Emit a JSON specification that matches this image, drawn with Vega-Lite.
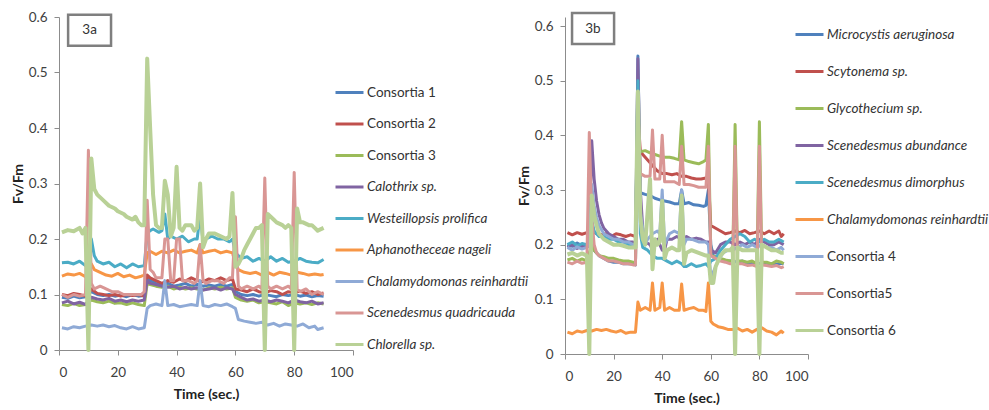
{
"$schema": "https://vega.github.io/schema/vega-lite/v6.json",
"autosize": {"type": "pad"},
"padding": {"left": 11, "top": 10, "right": 0, "bottom": 0},
"spacing": -12,
"config": {
 "font": "Lato",
 "view": {"stroke": null},
 "axis": {"domainColor": "#8c8c8c", "tickColor": "#8c8c8c", "tickSize": 5, "labelFontSize": 13.5, "labelColor": "#404040", "labelPadding": 7, "titleFontSize": 14, "titleFontWeight": "bold", "titleColor": "#222222", "grid": false},
 "legend": {"symbolType": "stroke", "symbolSize": 784, "symbolStrokeWidth": 3, "labelFontSize": 13.5, "labelColor": "#333333", "labelOffset": 2, "padding": 0, "labelLimit": 250}
},
"resolve": {"scale": {"color": "independent"}, "legend": {"color": "independent"}},
"datasets": {
 "namesA": [{"s":1,"n":"Consortia 1"},{"s":2,"n":"Consortia 2"},{"s":3,"n":"Consortia 3"},{"s":4,"n":"Calothrix sp."},{"s":5,"n":"Westeillopsis prolifica"},{"s":6,"n":"Aphanotheceae nageli"},{"s":7,"n":"Chalamydomonas reinhardtii"},{"s":8,"n":"Scenedesmus quadricauda"},{"s":9,"n":"Chlorella sp."}],
 "namesB": [{"s":1,"n":"Microcystis aeruginosa"},{"s":2,"n":"Scytonema sp."},{"s":3,"n":"Glycothecium sp."},{"s":4,"n":"Scenedesmus abundance"},{"s":5,"n":"Scenedesmus dimorphus"},{"s":6,"n":"Chalamydomonas reinhardtii"},{"s":7,"n":"Consortia 4"},{"s":8,"n":"Consortia5"},{"s":9,"n":"Consortia 6"}],
 "a": [
{"s":1,"t":1,"v":0.095},{"s":1,"t":3,"v":0.093},{"s":1,"t":5,"v":0.097},{"s":1,"t":7,"v":0.094},{"s":1,"t":9,"v":0.096},{"s":1,"t":11,"v":0.105},{"s":1,"t":13,"v":0.1},{"s":1,"t":15,"v":0.098},{"s":1,"t":17,"v":0.1},{"s":1,"t":19,"v":0.097},{"s":1,"t":21,"v":0.099},{"s":1,"t":23,"v":0.096},{"s":1,"t":25,"v":0.1},{"s":1,"t":27,"v":0.097},{"s":1,"t":29,"v":0.098},{"s":1,"t":30,"v":0.13},{"s":1,"t":31,"v":0.125},{"s":1,"t":33,"v":0.12},{"s":1,"t":35,"v":0.118},{"s":1,"t":37,"v":0.12},{"s":1,"t":39,"v":0.115},{"s":1,"t":41,"v":0.117},{"s":1,"t":43,"v":0.12},{"s":1,"t":45,"v":0.115},{"s":1,"t":47,"v":0.118},{"s":1,"t":49,"v":0.115},{"s":1,"t":51,"v":0.117},{"s":1,"t":53,"v":0.115},{"s":1,"t":55,"v":0.118},{"s":1,"t":57,"v":0.115},{"s":1,"t":59,"v":0.118},{"s":1,"t":60,"v":0.105},{"s":1,"t":62,"v":0.1},{"s":1,"t":64,"v":0.098},{"s":1,"t":66,"v":0.1},{"s":1,"t":68,"v":0.097},{"s":1,"t":70,"v":0.1},{"s":1,"t":72,"v":0.098},{"s":1,"t":74,"v":0.096},{"s":1,"t":76,"v":0.1},{"s":1,"t":78,"v":0.098},{"s":1,"t":80,"v":0.1},{"s":1,"t":82,"v":0.097},{"s":1,"t":84,"v":0.099},{"s":1,"t":86,"v":0.096},{"s":1,"t":88,"v":0.098},{"s":1,"t":90,"v":0.097},
{"s":2,"t":1,"v":0.1},{"s":2,"t":3,"v":0.098},{"s":2,"t":5,"v":0.102},{"s":2,"t":7,"v":0.1},{"s":2,"t":9,"v":0.097},{"s":2,"t":11,"v":0.11},{"s":2,"t":13,"v":0.102},{"s":2,"t":15,"v":0.1},{"s":2,"t":17,"v":0.098},{"s":2,"t":19,"v":0.1},{"s":2,"t":21,"v":0.097},{"s":2,"t":23,"v":0.1},{"s":2,"t":25,"v":0.098},{"s":2,"t":27,"v":0.1},{"s":2,"t":29,"v":0.097},{"s":2,"t":30,"v":0.135},{"s":2,"t":31,"v":0.13},{"s":2,"t":33,"v":0.125},{"s":2,"t":35,"v":0.12},{"s":2,"t":37,"v":0.125},{"s":2,"t":39,"v":0.122},{"s":2,"t":41,"v":0.128},{"s":2,"t":43,"v":0.124},{"s":2,"t":45,"v":0.13},{"s":2,"t":47,"v":0.125},{"s":2,"t":49,"v":0.123},{"s":2,"t":51,"v":0.128},{"s":2,"t":53,"v":0.125},{"s":2,"t":55,"v":0.13},{"s":2,"t":57,"v":0.125},{"s":2,"t":59,"v":0.128},{"s":2,"t":60,"v":0.11},{"s":2,"t":62,"v":0.108},{"s":2,"t":64,"v":0.105},{"s":2,"t":66,"v":0.11},{"s":2,"t":68,"v":0.105},{"s":2,"t":70,"v":0.103},{"s":2,"t":72,"v":0.107},{"s":2,"t":74,"v":0.105},{"s":2,"t":76,"v":0.1},{"s":2,"t":78,"v":0.105},{"s":2,"t":80,"v":0.103},{"s":2,"t":82,"v":0.106},{"s":2,"t":84,"v":0.102},{"s":2,"t":86,"v":0.105},{"s":2,"t":88,"v":0.1},{"s":2,"t":90,"v":0.103},
{"s":3,"t":1,"v":0.082},{"s":3,"t":3,"v":0.08},{"s":3,"t":5,"v":0.084},{"s":3,"t":7,"v":0.08},{"s":3,"t":9,"v":0.082},{"s":3,"t":11,"v":0.09},{"s":3,"t":13,"v":0.087},{"s":3,"t":15,"v":0.085},{"s":3,"t":17,"v":0.088},{"s":3,"t":19,"v":0.084},{"s":3,"t":21,"v":0.085},{"s":3,"t":23,"v":0.082},{"s":3,"t":25,"v":0.085},{"s":3,"t":27,"v":0.082},{"s":3,"t":29,"v":0.08},{"s":3,"t":30,"v":0.12},{"s":3,"t":31,"v":0.118},{"s":3,"t":33,"v":0.115},{"s":3,"t":35,"v":0.113},{"s":3,"t":37,"v":0.115},{"s":3,"t":39,"v":0.11},{"s":3,"t":41,"v":0.113},{"s":3,"t":43,"v":0.11},{"s":3,"t":45,"v":0.112},{"s":3,"t":47,"v":0.11},{"s":3,"t":49,"v":0.108},{"s":3,"t":51,"v":0.112},{"s":3,"t":53,"v":0.11},{"s":3,"t":55,"v":0.113},{"s":3,"t":57,"v":0.11},{"s":3,"t":59,"v":0.112},{"s":3,"t":60,"v":0.095},{"s":3,"t":62,"v":0.09},{"s":3,"t":64,"v":0.088},{"s":3,"t":66,"v":0.09},{"s":3,"t":68,"v":0.085},{"s":3,"t":70,"v":0.087},{"s":3,"t":72,"v":0.085},{"s":3,"t":74,"v":0.083},{"s":3,"t":76,"v":0.087},{"s":3,"t":78,"v":0.08},{"s":3,"t":80,"v":0.085},{"s":3,"t":82,"v":0.083},{"s":3,"t":84,"v":0.085},{"s":3,"t":86,"v":0.082},{"s":3,"t":88,"v":0.085},{"s":3,"t":90,"v":0.083},
{"s":4,"t":1,"v":0.085},{"s":4,"t":3,"v":0.088},{"s":4,"t":5,"v":0.083},{"s":4,"t":7,"v":0.086},{"s":4,"t":9,"v":0.082},{"s":4,"t":11,"v":0.095},{"s":4,"t":13,"v":0.092},{"s":4,"t":15,"v":0.09},{"s":4,"t":17,"v":0.093},{"s":4,"t":19,"v":0.088},{"s":4,"t":21,"v":0.09},{"s":4,"t":23,"v":0.087},{"s":4,"t":25,"v":0.09},{"s":4,"t":27,"v":0.088},{"s":4,"t":29,"v":0.09},{"s":4,"t":30,"v":0.125},{"s":4,"t":31,"v":0.12},{"s":4,"t":33,"v":0.118},{"s":4,"t":35,"v":0.115},{"s":4,"t":37,"v":0.113},{"s":4,"t":39,"v":0.115},{"s":4,"t":41,"v":0.11},{"s":4,"t":43,"v":0.113},{"s":4,"t":45,"v":0.11},{"s":4,"t":47,"v":0.112},{"s":4,"t":49,"v":0.108},{"s":4,"t":51,"v":0.11},{"s":4,"t":53,"v":0.112},{"s":4,"t":55,"v":0.108},{"s":4,"t":57,"v":0.112},{"s":4,"t":59,"v":0.11},{"s":4,"t":60,"v":0.1},{"s":4,"t":62,"v":0.095},{"s":4,"t":64,"v":0.09},{"s":4,"t":66,"v":0.092},{"s":4,"t":68,"v":0.088},{"s":4,"t":70,"v":0.09},{"s":4,"t":72,"v":0.087},{"s":4,"t":74,"v":0.09},{"s":4,"t":76,"v":0.088},{"s":4,"t":78,"v":0.085},{"s":4,"t":80,"v":0.09},{"s":4,"t":82,"v":0.087},{"s":4,"t":84,"v":0.085},{"s":4,"t":86,"v":0.088},{"s":4,"t":88,"v":0.083},{"s":4,"t":90,"v":0.085},
{"s":5,"t":1,"v":0.157},{"s":5,"t":3,"v":0.158},{"s":5,"t":5,"v":0.155},{"s":5,"t":7,"v":0.16},{"s":5,"t":9,"v":0.152},{"s":5,"t":10,"v":0.155},{"s":5,"t":11,"v":0.2},{"s":5,"t":12,"v":0.17},{"s":5,"t":13,"v":0.16},{"s":5,"t":15,"v":0.155},{"s":5,"t":17,"v":0.158},{"s":5,"t":19,"v":0.15},{"s":5,"t":21,"v":0.155},{"s":5,"t":23,"v":0.148},{"s":5,"t":25,"v":0.155},{"s":5,"t":27,"v":0.15},{"s":5,"t":29,"v":0.152},{"s":5,"t":30,"v":0.21},{"s":5,"t":31,"v":0.215},{"s":5,"t":32,"v":0.218},{"s":5,"t":34,"v":0.212},{"s":5,"t":35,"v":0.215},{"s":5,"t":36,"v":0.245},{"s":5,"t":37,"v":0.2},{"s":5,"t":38,"v":0.205},{"s":5,"t":40,"v":0.2},{"s":5,"t":42,"v":0.205},{"s":5,"t":44,"v":0.195},{"s":5,"t":46,"v":0.2},{"s":5,"t":47,"v":0.2},{"s":5,"t":48,"v":0.245},{"s":5,"t":49,"v":0.195},{"s":5,"t":50,"v":0.2},{"s":5,"t":52,"v":0.205},{"s":5,"t":54,"v":0.2},{"s":5,"t":56,"v":0.2},{"s":5,"t":58,"v":0.195},{"s":5,"t":59,"v":0.2},{"s":5,"t":60,"v":0.175},{"s":5,"t":61,"v":0.17},{"s":5,"t":62,"v":0.165},{"s":5,"t":64,"v":0.168},{"s":5,"t":66,"v":0.16},{"s":5,"t":68,"v":0.165},{"s":5,"t":70,"v":0.16},{"s":5,"t":72,"v":0.168},{"s":5,"t":74,"v":0.16},{"s":5,"t":76,"v":0.165},{"s":5,"t":78,"v":0.158},{"s":5,"t":80,"v":0.16},{"s":5,"t":82,"v":0.165},{"s":5,"t":84,"v":0.16},{"s":5,"t":86,"v":0.158},{"s":5,"t":88,"v":0.157},{"s":5,"t":90,"v":0.163},
{"s":6,"t":1,"v":0.133},{"s":6,"t":3,"v":0.137},{"s":6,"t":5,"v":0.135},{"s":6,"t":7,"v":0.138},{"s":6,"t":9,"v":0.132},{"s":6,"t":11,"v":0.155},{"s":6,"t":12,"v":0.145},{"s":6,"t":14,"v":0.14},{"s":6,"t":16,"v":0.135},{"s":6,"t":18,"v":0.133},{"s":6,"t":20,"v":0.138},{"s":6,"t":22,"v":0.132},{"s":6,"t":24,"v":0.135},{"s":6,"t":26,"v":0.13},{"s":6,"t":28,"v":0.133},{"s":6,"t":29,"v":0.135},{"s":6,"t":30,"v":0.175},{"s":6,"t":31,"v":0.178},{"s":6,"t":33,"v":0.172},{"s":6,"t":35,"v":0.178},{"s":6,"t":37,"v":0.175},{"s":6,"t":39,"v":0.18},{"s":6,"t":41,"v":0.175},{"s":6,"t":43,"v":0.178},{"s":6,"t":45,"v":0.18},{"s":6,"t":47,"v":0.175},{"s":6,"t":48,"v":0.19},{"s":6,"t":49,"v":0.175},{"s":6,"t":51,"v":0.178},{"s":6,"t":53,"v":0.18},{"s":6,"t":55,"v":0.175},{"s":6,"t":57,"v":0.178},{"s":6,"t":59,"v":0.175},{"s":6,"t":60,"v":0.155},{"s":6,"t":61,"v":0.145},{"s":6,"t":63,"v":0.14},{"s":6,"t":65,"v":0.138},{"s":6,"t":67,"v":0.14},{"s":6,"t":69,"v":0.135},{"s":6,"t":71,"v":0.14},{"s":6,"t":73,"v":0.135},{"s":6,"t":75,"v":0.14},{"s":6,"t":77,"v":0.138},{"s":6,"t":79,"v":0.135},{"s":6,"t":81,"v":0.14},{"s":6,"t":83,"v":0.138},{"s":6,"t":85,"v":0.135},{"s":6,"t":87,"v":0.137},{"s":6,"t":89,"v":0.135},{"s":6,"t":90,"v":0.136},
{"s":7,"t":1,"v":0.04},{"s":7,"t":3,"v":0.038},{"s":7,"t":5,"v":0.042},{"s":7,"t":7,"v":0.04},{"s":7,"t":9,"v":0.043},{"s":7,"t":11,"v":0.045},{"s":7,"t":13,"v":0.043},{"s":7,"t":15,"v":0.045},{"s":7,"t":17,"v":0.042},{"s":7,"t":19,"v":0.044},{"s":7,"t":21,"v":0.04},{"s":7,"t":23,"v":0.038},{"s":7,"t":25,"v":0.042},{"s":7,"t":27,"v":0.038},{"s":7,"t":29,"v":0.04},{"s":7,"t":30,"v":0.075},{"s":7,"t":31,"v":0.08},{"s":7,"t":33,"v":0.083},{"s":7,"t":35,"v":0.08},{"s":7,"t":36,"v":0.125},{"s":7,"t":37,"v":0.08},{"s":7,"t":39,"v":0.082},{"s":7,"t":41,"v":0.078},{"s":7,"t":43,"v":0.08},{"s":7,"t":45,"v":0.082},{"s":7,"t":47,"v":0.08},{"s":7,"t":48,"v":0.125},{"s":7,"t":49,"v":0.08},{"s":7,"t":51,"v":0.078},{"s":7,"t":53,"v":0.082},{"s":7,"t":55,"v":0.08},{"s":7,"t":57,"v":0.083},{"s":7,"t":59,"v":0.078},{"s":7,"t":60,"v":0.075},{"s":7,"t":61,"v":0.055},{"s":7,"t":63,"v":0.052},{"s":7,"t":65,"v":0.05},{"s":7,"t":67,"v":0.048},{"s":7,"t":69,"v":0.05},{"s":7,"t":71,"v":0.045},{"s":7,"t":73,"v":0.048},{"s":7,"t":75,"v":0.043},{"s":7,"t":77,"v":0.047},{"s":7,"t":79,"v":0.045},{"s":7,"t":81,"v":0.043},{"s":7,"t":83,"v":0.047},{"s":7,"t":85,"v":0.04},{"s":7,"t":87,"v":0.043},{"s":7,"t":88,"v":0.037},{"s":7,"t":90,"v":0.04},
{"s":8,"t":1,"v":0.1},{"s":8,"t":3,"v":0.095},{"s":8,"t":5,"v":0.1},{"s":8,"t":7,"v":0.097},{"s":8,"t":9,"v":0.1},{"s":8,"t":10,"v":0.36},{"s":8,"t":11,"v":0.12},{"s":8,"t":12,"v":0.11},{"s":8,"t":14,"v":0.115},{"s":8,"t":16,"v":0.11},{"s":8,"t":18,"v":0.105},{"s":8,"t":20,"v":0.105},{"s":8,"t":22,"v":0.1},{"s":8,"t":24,"v":0.1},{"s":8,"t":26,"v":0.1},{"s":8,"t":28,"v":0.1},{"s":8,"t":29,"v":0.105},{"s":8,"t":30,"v":0.27},{"s":8,"t":31,"v":0.145},{"s":8,"t":32,"v":0.14},{"s":8,"t":33,"v":0.13},{"s":8,"t":35,"v":0.13},{"s":8,"t":36,"v":0.2},{"s":8,"t":37,"v":0.2},{"s":8,"t":38,"v":0.125},{"s":8,"t":39,"v":0.125},{"s":8,"t":40,"v":0.2},{"s":8,"t":41,"v":0.2},{"s":8,"t":42,"v":0.125},{"s":8,"t":44,"v":0.125},{"s":8,"t":46,"v":0.12},{"s":8,"t":47,"v":0.125},{"s":8,"t":48,"v":0.19},{"s":8,"t":49,"v":0.125},{"s":8,"t":50,"v":0.12},{"s":8,"t":52,"v":0.125},{"s":8,"t":54,"v":0.125},{"s":8,"t":56,"v":0.12},{"s":8,"t":58,"v":0.13},{"s":8,"t":59,"v":0.13},{"s":8,"t":60,"v":0.24},{"s":8,"t":61,"v":0.115},{"s":8,"t":62,"v":0.11},{"s":8,"t":64,"v":0.115},{"s":8,"t":66,"v":0.11},{"s":8,"t":68,"v":0.115},{"s":8,"t":69,"v":0.11},{"s":8,"t":70,"v":0.31},{"s":8,"t":71,"v":0.115},{"s":8,"t":72,"v":0.11},{"s":8,"t":74,"v":0.115},{"s":8,"t":76,"v":0.11},{"s":8,"t":78,"v":0.115},{"s":8,"t":79,"v":0.11},{"s":8,"t":80,"v":0.32},{"s":8,"t":81,"v":0.11},{"s":8,"t":82,"v":0.105},{"s":8,"t":84,"v":0.11},{"s":8,"t":86,"v":0.1},{"s":8,"t":88,"v":0.105},{"s":8,"t":90,"v":0.1},
{"s":9,"t":1,"v":0.212},{"s":9,"t":3,"v":0.216},{"s":9,"t":5,"v":0.214},{"s":9,"t":7,"v":0.22},{"s":9,"t":8,"v":0.21},{"s":9,"t":9,"v":0.22},{"s":9,"t":10,"v":0},{"s":9,"t":11,"v":0.345},{"s":9,"t":12,"v":0.29},{"s":9,"t":13,"v":0.28},{"s":9,"t":15,"v":0.27},{"s":9,"t":17,"v":0.26},{"s":9,"t":19,"v":0.255},{"s":9,"t":20,"v":0.25},{"s":9,"t":22,"v":0.245},{"s":9,"t":23,"v":0.24},{"s":9,"t":25,"v":0.235},{"s":9,"t":26,"v":0.24},{"s":9,"t":27,"v":0.23},{"s":9,"t":28,"v":0.225},{"s":9,"t":29,"v":0.225},{"s":9,"t":30,"v":0.525},{"s":9,"t":31,"v":0.4},{"s":9,"t":32,"v":0.28},{"s":9,"t":33,"v":0.225},{"s":9,"t":34,"v":0.22},{"s":9,"t":35,"v":0.22},{"s":9,"t":36,"v":0.305},{"s":9,"t":37,"v":0.28},{"s":9,"t":38,"v":0.205},{"s":9,"t":39,"v":0.22},{"s":9,"t":40,"v":0.33},{"s":9,"t":41,"v":0.22},{"s":9,"t":42,"v":0.215},{"s":9,"t":43,"v":0.225},{"s":9,"t":45,"v":0.225},{"s":9,"t":46,"v":0.215},{"s":9,"t":47,"v":0.22},{"s":9,"t":48,"v":0.3},{"s":9,"t":49,"v":0.185},{"s":9,"t":50,"v":0.2},{"s":9,"t":51,"v":0.21},{"s":9,"t":53,"v":0.21},{"s":9,"t":55,"v":0.205},{"s":9,"t":57,"v":0.2},{"s":9,"t":58,"v":0.205},{"s":9,"t":59,"v":0.283},{"s":9,"t":60,"v":0.15},{"s":9,"t":61,"v":0.155},{"s":9,"t":62,"v":0.165},{"s":9,"t":63,"v":0.18},{"s":9,"t":64,"v":0.19},{"s":9,"t":65,"v":0.2},{"s":9,"t":66,"v":0.21},{"s":9,"t":67,"v":0.22},{"s":9,"t":68,"v":0.22},{"s":9,"t":69,"v":0.225},{"s":9,"t":70,"v":0},{"s":9,"t":71,"v":0.245},{"s":9,"t":72,"v":0.24},{"s":9,"t":73,"v":0.235},{"s":9,"t":74,"v":0.23},{"s":9,"t":76,"v":0.225},{"s":9,"t":77,"v":0.22},{"s":9,"t":78,"v":0.225},{"s":9,"t":79,"v":0.22},{"s":9,"t":80,"v":0},{"s":9,"t":81,"v":0.255},{"s":9,"t":82,"v":0.23},{"s":9,"t":83,"v":0.23},{"s":9,"t":85,"v":0.225},{"s":9,"t":86,"v":0.225},{"s":9,"t":87,"v":0.22},{"s":9,"t":88,"v":0.215},{"s":9,"t":90,"v":0.22}
 ],
 "b": [
{"s":1,"t":1,"v":0.2},{"s":1,"t":3,"v":0.197},{"s":1,"t":5,"v":0.203},{"s":1,"t":7,"v":0.198},{"s":1,"t":9,"v":0.2},{"s":1,"t":10,"v":0.2},{"s":1,"t":11,"v":0.21},{"s":1,"t":12,"v":0.19},{"s":1,"t":14,"v":0.18},{"s":1,"t":16,"v":0.175},{"s":1,"t":18,"v":0.17},{"s":1,"t":20,"v":0.168},{"s":1,"t":22,"v":0.168},{"s":1,"t":24,"v":0.165},{"s":1,"t":26,"v":0.165},{"s":1,"t":28,"v":0.165},{"s":1,"t":29,"v":0.163},{"s":1,"t":30,"v":0.545},{"s":1,"t":31,"v":0.295},{"s":1,"t":33,"v":0.292},{"s":1,"t":35,"v":0.29},{"s":1,"t":37,"v":0.285},{"s":1,"t":39,"v":0.282},{"s":1,"t":41,"v":0.28},{"s":1,"t":43,"v":0.278},{"s":1,"t":45,"v":0.275},{"s":1,"t":47,"v":0.275},{"s":1,"t":48,"v":0.3},{"s":1,"t":49,"v":0.275},{"s":1,"t":51,"v":0.277},{"s":1,"t":53,"v":0.273},{"s":1,"t":55,"v":0.272},{"s":1,"t":57,"v":0.27},{"s":1,"t":58,"v":0.272},{"s":1,"t":59,"v":0.3},{"s":1,"t":60,"v":0.2},{"s":1,"t":61,"v":0.18},{"s":1,"t":63,"v":0.175},{"s":1,"t":65,"v":0.172},{"s":1,"t":67,"v":0.17},{"s":1,"t":69,"v":0.17},{"s":1,"t":71,"v":0.168},{"s":1,"t":73,"v":0.17},{"s":1,"t":75,"v":0.166},{"s":1,"t":77,"v":0.168},{"s":1,"t":79,"v":0.165},{"s":1,"t":81,"v":0.166},{"s":1,"t":83,"v":0.163},{"s":1,"t":85,"v":0.165},{"s":1,"t":87,"v":0.164},{"s":1,"t":89,"v":0.166},{"s":1,"t":90,"v":0.165},
{"s":2,"t":1,"v":0.222},{"s":2,"t":3,"v":0.218},{"s":2,"t":5,"v":0.222},{"s":2,"t":7,"v":0.219},{"s":2,"t":9,"v":0.222},{"s":2,"t":11,"v":0.225},{"s":2,"t":13,"v":0.22},{"s":2,"t":15,"v":0.218},{"s":2,"t":17,"v":0.22},{"s":2,"t":19,"v":0.215},{"s":2,"t":21,"v":0.22},{"s":2,"t":23,"v":0.218},{"s":2,"t":25,"v":0.215},{"s":2,"t":27,"v":0.218},{"s":2,"t":29,"v":0.215},{"s":2,"t":30,"v":0.44},{"s":2,"t":31,"v":0.37},{"s":2,"t":32,"v":0.365},{"s":2,"t":34,"v":0.355},{"s":2,"t":36,"v":0.345},{"s":2,"t":38,"v":0.335},{"s":2,"t":40,"v":0.33},{"s":2,"t":42,"v":0.33},{"s":2,"t":44,"v":0.328},{"s":2,"t":46,"v":0.33},{"s":2,"t":48,"v":0.325},{"s":2,"t":50,"v":0.325},{"s":2,"t":52,"v":0.322},{"s":2,"t":54,"v":0.32},{"s":2,"t":56,"v":0.32},{"s":2,"t":58,"v":0.322},{"s":2,"t":59,"v":0.32},{"s":2,"t":60,"v":0.235},{"s":2,"t":62,"v":0.23},{"s":2,"t":64,"v":0.225},{"s":2,"t":66,"v":0.22},{"s":2,"t":68,"v":0.222},{"s":2,"t":70,"v":0.225},{"s":2,"t":72,"v":0.222},{"s":2,"t":74,"v":0.226},{"s":2,"t":76,"v":0.22},{"s":2,"t":78,"v":0.222},{"s":2,"t":80,"v":0.225},{"s":2,"t":82,"v":0.22},{"s":2,"t":84,"v":0.225},{"s":2,"t":86,"v":0.22},{"s":2,"t":88,"v":0.225},{"s":2,"t":89,"v":0.215},{"s":2,"t":90,"v":0.22},
{"s":3,"t":1,"v":0.172},{"s":3,"t":3,"v":0.175},{"s":3,"t":5,"v":0.17},{"s":3,"t":7,"v":0.174},{"s":3,"t":9,"v":0.17},{"s":3,"t":11,"v":0.2},{"s":3,"t":12,"v":0.19},{"s":3,"t":14,"v":0.18},{"s":3,"t":16,"v":0.178},{"s":3,"t":18,"v":0.175},{"s":3,"t":20,"v":0.175},{"s":3,"t":22,"v":0.172},{"s":3,"t":24,"v":0.17},{"s":3,"t":26,"v":0.17},{"s":3,"t":28,"v":0.168},{"s":3,"t":29,"v":0.168},{"s":3,"t":30,"v":0.38},{"s":3,"t":31,"v":0.37},{"s":3,"t":33,"v":0.372},{"s":3,"t":35,"v":0.368},{"s":3,"t":37,"v":0.365},{"s":3,"t":39,"v":0.362},{"s":3,"t":41,"v":0.36},{"s":3,"t":43,"v":0.36},{"s":3,"t":45,"v":0.358},{"s":3,"t":47,"v":0.355},{"s":3,"t":48,"v":0.425},{"s":3,"t":49,"v":0.355},{"s":3,"t":51,"v":0.352},{"s":3,"t":53,"v":0.35},{"s":3,"t":55,"v":0.348},{"s":3,"t":57,"v":0.352},{"s":3,"t":58,"v":0.355},{"s":3,"t":59,"v":0.42},{"s":3,"t":60,"v":0.18},{"s":3,"t":62,"v":0.178},{"s":3,"t":64,"v":0.175},{"s":3,"t":66,"v":0.172},{"s":3,"t":68,"v":0.17},{"s":3,"t":69,"v":0.17},{"s":3,"t":70,"v":0.42},{"s":3,"t":71,"v":0.17},{"s":3,"t":73,"v":0.17},{"s":3,"t":75,"v":0.168},{"s":3,"t":77,"v":0.17},{"s":3,"t":79,"v":0.165},{"s":3,"t":80,"v":0.425},{"s":3,"t":81,"v":0.168},{"s":3,"t":83,"v":0.168},{"s":3,"t":85,"v":0.165},{"s":3,"t":87,"v":0.17},{"s":3,"t":89,"v":0.168},{"s":3,"t":90,"v":0.165},
{"s":4,"t":1,"v":0.195},{"s":4,"t":3,"v":0.2},{"s":4,"t":5,"v":0.193},{"s":4,"t":7,"v":0.197},{"s":4,"t":9,"v":0.195},{"s":4,"t":10,"v":0.2},{"s":4,"t":11,"v":0.39},{"s":4,"t":12,"v":0.32},{"s":4,"t":13,"v":0.28},{"s":4,"t":14,"v":0.255},{"s":4,"t":15,"v":0.24},{"s":4,"t":16,"v":0.23},{"s":4,"t":18,"v":0.22},{"s":4,"t":20,"v":0.215},{"s":4,"t":22,"v":0.21},{"s":4,"t":24,"v":0.21},{"s":4,"t":26,"v":0.205},{"s":4,"t":28,"v":0.205},{"s":4,"t":29,"v":0.2},{"s":4,"t":30,"v":0.54},{"s":4,"t":31,"v":0.3},{"s":4,"t":32,"v":0.23},{"s":4,"t":33,"v":0.205},{"s":4,"t":35,"v":0.2},{"s":4,"t":36,"v":0.19},{"s":4,"t":37,"v":0.2},{"s":4,"t":38,"v":0.21},{"s":4,"t":40,"v":0.19},{"s":4,"t":41,"v":0.19},{"s":4,"t":42,"v":0.21},{"s":4,"t":44,"v":0.21},{"s":4,"t":46,"v":0.215},{"s":4,"t":48,"v":0.21},{"s":4,"t":50,"v":0.215},{"s":4,"t":52,"v":0.21},{"s":4,"t":54,"v":0.212},{"s":4,"t":56,"v":0.21},{"s":4,"t":58,"v":0.205},{"s":4,"t":59,"v":0.205},{"s":4,"t":60,"v":0.19},{"s":4,"t":62,"v":0.185},{"s":4,"t":64,"v":0.2},{"s":4,"t":66,"v":0.205},{"s":4,"t":68,"v":0.205},{"s":4,"t":70,"v":0.2},{"s":4,"t":72,"v":0.205},{"s":4,"t":74,"v":0.2},{"s":4,"t":76,"v":0.205},{"s":4,"t":78,"v":0.2},{"s":4,"t":80,"v":0.21},{"s":4,"t":82,"v":0.205},{"s":4,"t":84,"v":0.2},{"s":4,"t":86,"v":0.2},{"s":4,"t":88,"v":0.205},{"s":4,"t":90,"v":0.2},
{"s":5,"t":1,"v":0.2},{"s":5,"t":3,"v":0.205},{"s":5,"t":5,"v":0.198},{"s":5,"t":7,"v":0.202},{"s":5,"t":9,"v":0.2},{"s":5,"t":10,"v":0.2},{"s":5,"t":11,"v":0.245},{"s":5,"t":12,"v":0.225},{"s":5,"t":14,"v":0.215},{"s":5,"t":16,"v":0.215},{"s":5,"t":18,"v":0.21},{"s":5,"t":20,"v":0.21},{"s":5,"t":22,"v":0.205},{"s":5,"t":24,"v":0.205},{"s":5,"t":26,"v":0.2},{"s":5,"t":28,"v":0.2},{"s":5,"t":29,"v":0.2},{"s":5,"t":30,"v":0.5},{"s":5,"t":31,"v":0.22},{"s":5,"t":32,"v":0.195},{"s":5,"t":34,"v":0.19},{"s":5,"t":36,"v":0.18},{"s":5,"t":38,"v":0.175},{"s":5,"t":40,"v":0.175},{"s":5,"t":42,"v":0.17},{"s":5,"t":44,"v":0.165},{"s":5,"t":46,"v":0.17},{"s":5,"t":48,"v":0.165},{"s":5,"t":49,"v":0.16},{"s":5,"t":50,"v":0.16},{"s":5,"t":52,"v":0.165},{"s":5,"t":54,"v":0.16},{"s":5,"t":56,"v":0.162},{"s":5,"t":58,"v":0.165},{"s":5,"t":59,"v":0.16},{"s":5,"t":60,"v":0.17},{"s":5,"t":62,"v":0.175},{"s":5,"t":64,"v":0.19},{"s":5,"t":66,"v":0.2},{"s":5,"t":68,"v":0.21},{"s":5,"t":70,"v":0.215},{"s":5,"t":72,"v":0.22},{"s":5,"t":74,"v":0.215},{"s":5,"t":76,"v":0.205},{"s":5,"t":78,"v":0.21},{"s":5,"t":80,"v":0.205},{"s":5,"t":82,"v":0.21},{"s":5,"t":84,"v":0.205},{"s":5,"t":86,"v":0.205},{"s":5,"t":88,"v":0.21},{"s":5,"t":90,"v":0.205},
{"s":6,"t":1,"v":0.04},{"s":6,"t":3,"v":0.037},{"s":6,"t":5,"v":0.042},{"s":6,"t":7,"v":0.04},{"s":6,"t":9,"v":0.043},{"s":6,"t":11,"v":0.042},{"s":6,"t":13,"v":0.045},{"s":6,"t":15,"v":0.043},{"s":6,"t":17,"v":0.045},{"s":6,"t":19,"v":0.042},{"s":6,"t":21,"v":0.04},{"s":6,"t":23,"v":0.043},{"s":6,"t":25,"v":0.038},{"s":6,"t":27,"v":0.04},{"s":6,"t":29,"v":0.04},{"s":6,"t":30,"v":0.095},{"s":6,"t":31,"v":0.08},{"s":6,"t":33,"v":0.085},{"s":6,"t":35,"v":0.08},{"s":6,"t":36,"v":0.13},{"s":6,"t":37,"v":0.08},{"s":6,"t":39,"v":0.085},{"s":6,"t":40,"v":0.13},{"s":6,"t":41,"v":0.08},{"s":6,"t":43,"v":0.085},{"s":6,"t":45,"v":0.08},{"s":6,"t":47,"v":0.08},{"s":6,"t":48,"v":0.128},{"s":6,"t":49,"v":0.08},{"s":6,"t":51,"v":0.083},{"s":6,"t":53,"v":0.085},{"s":6,"t":55,"v":0.08},{"s":6,"t":57,"v":0.08},{"s":6,"t":58,"v":0.078},{"s":6,"t":59,"v":0.13},{"s":6,"t":60,"v":0.06},{"s":6,"t":61,"v":0.055},{"s":6,"t":63,"v":0.05},{"s":6,"t":65,"v":0.048},{"s":6,"t":67,"v":0.045},{"s":6,"t":69,"v":0.045},{"s":6,"t":71,"v":0.047},{"s":6,"t":73,"v":0.042},{"s":6,"t":75,"v":0.045},{"s":6,"t":77,"v":0.04},{"s":6,"t":79,"v":0.045},{"s":6,"t":81,"v":0.048},{"s":6,"t":83,"v":0.042},{"s":6,"t":85,"v":0.04},{"s":6,"t":87,"v":0.035},{"s":6,"t":89,"v":0.042},{"s":6,"t":90,"v":0.038},
{"s":7,"t":1,"v":0.195},{"s":7,"t":3,"v":0.19},{"s":7,"t":5,"v":0.196},{"s":7,"t":7,"v":0.192},{"s":7,"t":9,"v":0.195},{"s":7,"t":10,"v":0.2},{"s":7,"t":11,"v":0.31},{"s":7,"t":12,"v":0.27},{"s":7,"t":13,"v":0.25},{"s":7,"t":14,"v":0.235},{"s":7,"t":16,"v":0.22},{"s":7,"t":18,"v":0.215},{"s":7,"t":20,"v":0.21},{"s":7,"t":22,"v":0.21},{"s":7,"t":24,"v":0.205},{"s":7,"t":26,"v":0.205},{"s":7,"t":28,"v":0.2},{"s":7,"t":29,"v":0.2},{"s":7,"t":30,"v":0.47},{"s":7,"t":31,"v":0.26},{"s":7,"t":33,"v":0.2},{"s":7,"t":34,"v":0.21},{"s":7,"t":36,"v":0.22},{"s":7,"t":38,"v":0.225},{"s":7,"t":39,"v":0.22},{"s":7,"t":40,"v":0.3},{"s":7,"t":41,"v":0.2},{"s":7,"t":43,"v":0.22},{"s":7,"t":45,"v":0.225},{"s":7,"t":47,"v":0.22},{"s":7,"t":48,"v":0.3},{"s":7,"t":49,"v":0.2},{"s":7,"t":50,"v":0.21},{"s":7,"t":52,"v":0.21},{"s":7,"t":55,"v":0.205},{"s":7,"t":58,"v":0.205},{"s":7,"t":59,"v":0.2},{"s":7,"t":60,"v":0.14},{"s":7,"t":61,"v":0.15},{"s":7,"t":63,"v":0.17},{"s":7,"t":65,"v":0.185},{"s":7,"t":67,"v":0.19},{"s":7,"t":69,"v":0.19},{"s":7,"t":71,"v":0.195},{"s":7,"t":73,"v":0.2},{"s":7,"t":75,"v":0.195},{"s":7,"t":77,"v":0.2},{"s":7,"t":79,"v":0.195},{"s":7,"t":81,"v":0.2},{"s":7,"t":83,"v":0.195},{"s":7,"t":85,"v":0.195},{"s":7,"t":87,"v":0.19},{"s":7,"t":89,"v":0.195},{"s":7,"t":90,"v":0.19},
{"s":8,"t":1,"v":0.168},{"s":8,"t":3,"v":0.165},{"s":8,"t":5,"v":0.17},{"s":8,"t":7,"v":0.166},{"s":8,"t":9,"v":0.168},{"s":8,"t":10,"v":0.405},{"s":8,"t":11,"v":0.25},{"s":8,"t":12,"v":0.2},{"s":8,"t":13,"v":0.185},{"s":8,"t":14,"v":0.18},{"s":8,"t":16,"v":0.175},{"s":8,"t":18,"v":0.17},{"s":8,"t":20,"v":0.17},{"s":8,"t":22,"v":0.168},{"s":8,"t":24,"v":0.165},{"s":8,"t":26,"v":0.165},{"s":8,"t":28,"v":0.163},{"s":8,"t":29,"v":0.163},{"s":8,"t":30,"v":0.45},{"s":8,"t":31,"v":0.33},{"s":8,"t":33,"v":0.325},{"s":8,"t":35,"v":0.325},{"s":8,"t":36,"v":0.41},{"s":8,"t":37,"v":0.32},{"s":8,"t":39,"v":0.32},{"s":8,"t":40,"v":0.4},{"s":8,"t":41,"v":0.315},{"s":8,"t":43,"v":0.315},{"s":8,"t":45,"v":0.315},{"s":8,"t":47,"v":0.31},{"s":8,"t":48,"v":0.38},{"s":8,"t":49,"v":0.31},{"s":8,"t":51,"v":0.31},{"s":8,"t":53,"v":0.308},{"s":8,"t":55,"v":0.305},{"s":8,"t":57,"v":0.305},{"s":8,"t":58,"v":0.305},{"s":8,"t":59,"v":0.38},{"s":8,"t":60,"v":0.18},{"s":8,"t":62,"v":0.175},{"s":8,"t":64,"v":0.17},{"s":8,"t":66,"v":0.168},{"s":8,"t":68,"v":0.165},{"s":8,"t":69,"v":0.165},{"s":8,"t":70,"v":0.38},{"s":8,"t":71,"v":0.165},{"s":8,"t":73,"v":0.165},{"s":8,"t":75,"v":0.162},{"s":8,"t":77,"v":0.163},{"s":8,"t":79,"v":0.16},{"s":8,"t":80,"v":0.38},{"s":8,"t":81,"v":0.163},{"s":8,"t":83,"v":0.162},{"s":8,"t":85,"v":0.16},{"s":8,"t":87,"v":0.162},{"s":8,"t":89,"v":0.158},{"s":8,"t":90,"v":0.16},
{"s":9,"t":1,"v":0.182},{"s":9,"t":3,"v":0.185},{"s":9,"t":5,"v":0.18},{"s":9,"t":7,"v":0.184},{"s":9,"t":9,"v":0.18},{"s":9,"t":10,"v":0},{"s":9,"t":11,"v":0.29},{"s":9,"t":12,"v":0.255},{"s":9,"t":13,"v":0.235},{"s":9,"t":14,"v":0.22},{"s":9,"t":16,"v":0.21},{"s":9,"t":18,"v":0.205},{"s":9,"t":20,"v":0.2},{"s":9,"t":22,"v":0.2},{"s":9,"t":24,"v":0.198},{"s":9,"t":26,"v":0.195},{"s":9,"t":28,"v":0.195},{"s":9,"t":29,"v":0.195},{"s":9,"t":30,"v":0.48},{"s":9,"t":31,"v":0.25},{"s":9,"t":32,"v":0.21},{"s":9,"t":33,"v":0.2},{"s":9,"t":35,"v":0.32},{"s":9,"t":36,"v":0.155},{"s":9,"t":37,"v":0.21},{"s":9,"t":38,"v":0.2},{"s":9,"t":39,"v":0.205},{"s":9,"t":40,"v":0.28},{"s":9,"t":41,"v":0.175},{"s":9,"t":42,"v":0.19},{"s":9,"t":44,"v":0.195},{"s":9,"t":46,"v":0.19},{"s":9,"t":47,"v":0.19},{"s":9,"t":48,"v":0.29},{"s":9,"t":49,"v":0.165},{"s":9,"t":50,"v":0.185},{"s":9,"t":52,"v":0.19},{"s":9,"t":55,"v":0.185},{"s":9,"t":58,"v":0.18},{"s":9,"t":59,"v":0.18},{"s":9,"t":60,"v":0.13},{"s":9,"t":61,"v":0.13},{"s":9,"t":62,"v":0.16},{"s":9,"t":64,"v":0.18},{"s":9,"t":66,"v":0.19},{"s":9,"t":68,"v":0.19},{"s":9,"t":69,"v":0.195},{"s":9,"t":70,"v":0},{"s":9,"t":71,"v":0.195},{"s":9,"t":73,"v":0.19},{"s":9,"t":75,"v":0.19},{"s":9,"t":77,"v":0.19},{"s":9,"t":79,"v":0.19},{"s":9,"t":80,"v":0},{"s":9,"t":81,"v":0.2},{"s":9,"t":83,"v":0.195},{"s":9,"t":85,"v":0.19},{"s":9,"t":87,"v":0.19},{"s":9,"t":89,"v":0.185},{"s":9,"t":90,"v":0.185}
 ]
},
"hconcat": [
 {
  "width": 294, "height": 333,
  "layer": [
   {
    "data": {"name": "a"},
    "transform": [{"lookup": "s", "from": {"data": {"name": "namesA"}, "key": "s", "fields": ["n"]}}],
    "mark": {"type": "line", "strokeJoin": "round"},
    "encoding": {
     "x": {"field": "t", "type": "quantitative", "scale": {"domain": [0, 100], "nice": false}, "axis": {"values": [0, 20, 40, 60, 80, 100], "title": "Time (sec.)", "labelPadding": 10, "titlePadding": 9}},
     "y": {"field": "v", "type": "quantitative", "scale": {"domain": [0, 0.6], "nice": false}, "axis": {"values": [0, 0.1, 0.2, 0.3, 0.4, 0.5, 0.6], "format": ".1~f", "title": "Fv/Fm", "titlePadding": 3}},
     "color": {"field": "n", "type": "nominal", "sort": null,
      "scale": {"domain": ["Consortia 1","Consortia 2","Consortia 3","Calothrix sp.","Westeillopsis prolifica","Aphanotheceae nageli","Chalamydomonas reinhardtii","Scenedesmus quadricauda","Chlorella sp."],
                "range": ["#4F81BD","#C0504D","#9BBB59","#8064A2","#4BACC6","#F79646","#8FAAD6","#D99694","#B9D196"]},
      "legend": {"title": null, "orient": "none", "legendX": 275, "legendY": 60, "rowPadding": 9.5, "labelFontStyle": {"expr": "indexof(datum.label, 'Consortia') === 0 ? 'normal' : 'italic'"}}},
     "strokeWidth": {"condition": {"test": "datum.s === 9", "value": 4}, "value": 3}
    }
   },
   {
    "data": {"values": [{"label": "3a"}]},
    "mark": {"type": "rect", "fill": "white", "stroke": "#7f7f7f", "strokeWidth": 2.5},
    "encoding": {"x": {"datum": 3.1, "type": "quantitative"}, "x2": {"datum": 17.7}, "y": {"datum": 0.548, "type": "quantitative"}, "y2": {"datum": 0.604}}
   },
   {
    "data": {"values": [{"label": "3a"}]},
    "mark": {"type": "text", "fontSize": 13.5, "color": "#333333", "align": "center", "baseline": "middle"},
    "encoding": {"x": {"datum": 10.4, "type": "quantitative"}, "y": {"datum": 0.576, "type": "quantitative"}, "text": {"field": "label"}}
   }
  ]
 },
 {
  "width": 243, "height": 337,
  "layer": [
   {
    "data": {"name": "b"},
    "transform": [{"lookup": "s", "from": {"data": {"name": "namesB"}, "key": "s", "fields": ["n"]}}],
    "mark": {"type": "line", "strokeJoin": "round"},
    "encoding": {
     "x": {"field": "t", "type": "quantitative", "scale": {"domain": [0, 100], "nice": false}, "axis": {"values": [0, 20, 40, 60, 80, 100], "title": "Time (sec.)", "labelPadding": 10, "titlePadding": 9}},
     "y": {"field": "v", "type": "quantitative", "scale": {"domain": [0, 0.6165], "nice": false}, "axis": {"values": [0, 0.1, 0.2, 0.3, 0.4, 0.5, 0.6], "format": ".1~f", "title": "Fv/Fm", "titlePadding": 3}},
     "color": {"field": "n", "type": "nominal", "sort": null,
      "scale": {"domain": ["Microcystis aeruginosa","Scytonema sp.","Glycothecium sp.","Scenedesmus abundance","Scenedesmus dimorphus","Chalamydomonas reinhardtii","Consortia 4","Consortia5","Consortia 6"],
                "range": ["#4F81BD","#C0504D","#9BBB59","#8064A2","#4BACC6","#F79646","#8FAAD6","#D99694","#B9D196"]},
      "legend": {"title": null, "orient": "none", "legendX": 229, "legendY": 2, "rowPadding": 15, "labelFontStyle": {"expr": "indexof(datum.label, 'Consortia') === 0 ? 'normal' : 'italic'"}}},
     "strokeWidth": {"condition": {"test": "datum.s === 9", "value": 4}, "value": 3}
    }
   },
   {
    "data": {"values": [{"label": "3b"}]},
    "mark": {"type": "rect", "fill": "white", "stroke": "#7f7f7f", "strokeWidth": 2.5},
    "encoding": {"x": {"datum": 2.9, "type": "quantitative"}, "x2": {"datum": 20.2}, "y": {"datum": 0.567, "type": "quantitative"}, "y2": {"datum": 0.624}}
   },
   {
    "data": {"values": [{"label": "3b"}]},
    "mark": {"type": "text", "fontSize": 13.5, "color": "#333333", "align": "center", "baseline": "middle"},
    "encoding": {"x": {"datum": 11.5, "type": "quantitative"}, "y": {"datum": 0.595, "type": "quantitative"}, "text": {"field": "label"}}
   }
  ]
 }
]
}
